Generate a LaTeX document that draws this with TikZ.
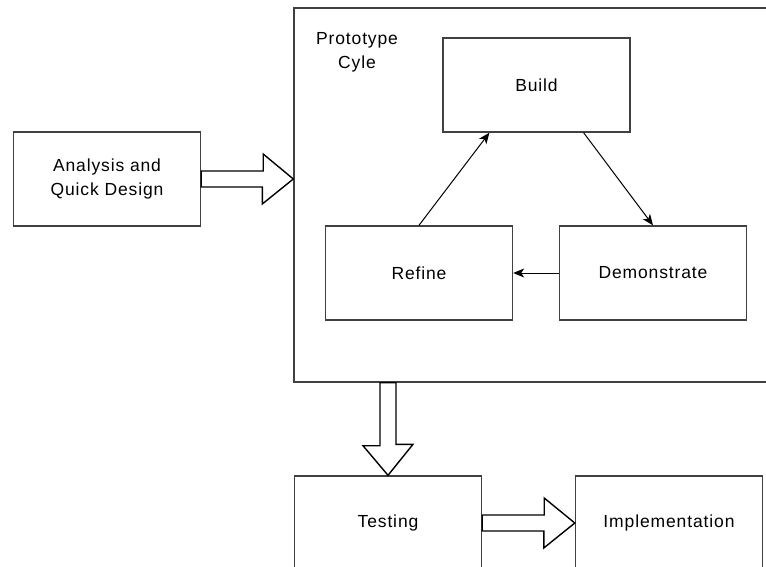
\documentclass[tikz,border=0pt]{standalone}
\usepackage{fontspec}
\setmainfont{Liberation Sans}[LetterSpace=5]
\usetikzlibrary{calc,arrows.meta}

\begin{document}
\begin{tikzpicture}[x=1pt,y=-1pt,
        box/.style={draw=black!75,line width=1.4pt,minimum width=187pt,minimum height=94pt,
                    inner sep=0pt,align=center,font=\fontsize{17.5}{24}\selectfont},
        flow/.style={line width=1pt,-{Stealth[length=11pt,width=9pt,inset=3pt]}},
        blockarrow/.style={draw=black,line width=1.4pt,fill=white,line join=miter}]
        \useasboundingbox (0,0) rectangle (766,567);
        \clip (0,0) rectangle (766,567);
        % points
        \coordinate (A) at (107,179);
        \coordinate (B) at (536.5,85);
        \coordinate (R) at (419,273);
        \coordinate (D) at (653,273);
        \coordinate (T) at (388,523);
        \coordinate (I) at (669,523);
        % boxes
        \node[box,minimum width=481pt,minimum height=374pt] (proto) at (534.5,195) {};
        \node[align=center,font=\fontsize{17.5}{24}\selectfont] (title) at (357,52) {Prototype\\Cyle};
        \node[box] (analysis) at (A) {Analysis and\\Quick Design};
        \node[box] (build) at (B) {Build};
        \node[box] (refine) at (R) {Refine};
        \node[box] (demo) at (D) {Demonstrate};
        \node[box] (testing) at (T) {Testing};
        \node[box] (impl) at (I) {Implementation};
        % prototype loop
        \draw[flow] (refine.north) -- ($(build.south west)!0.25!(build.south east)$);
        \draw[flow] ($(build.south west)!0.75!(build.south east)$) -- (demo.north);
        \draw[flow] (demo.west) -- (refine.east);
        % block arrows
        \draw[blockarrow] ($(analysis.east)+(0,-8)$) -- ++(62,0) -- ++(0,-17)
            -- (analysis.east -| proto.west) -- ++(-31,25) -- ++(0,-17)
            -- ($(analysis.east)+(0,8)$) -- cycle;
        \draw[blockarrow] ($(testing.north |- proto.south)+(-8,0)$) -- ++(0,63) -- ++(-17,0)
            -- (testing.north) -- ++(25,-31) -- ++(-17,0)
            -- ($(testing.north |- proto.south)+(8,0)$) -- cycle;
        \draw[blockarrow] ($(testing.east)+(0,-8)$) -- ++(62,0) -- ++(0,-17)
            -- (impl.west) -- ++(-31,25) -- ++(0,-17)
            -- ($(testing.east)+(0,8)$) -- cycle;
    \end{tikzpicture}
\end{document}
